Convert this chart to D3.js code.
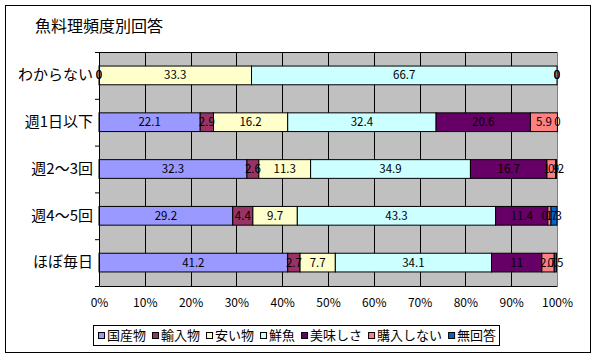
<!DOCTYPE html>
<html><head><meta charset="utf-8">
<script src="https://cdn.jsdelivr.net/npm/d3@7"></script>
<style>body{margin:0;background:#fff}svg{display:block}text{font-family:"Noto Sans CJK JP","Noto Sans",sans-serif}</style>
</head><body>
<svg id="c" width="596" height="358"></svg>
<script>
const title = "魚料理頻度別回答";
const categories = ["わからない","週1日以下","週2～3回","週4～5回","ほぼ毎日"];
const seriesNames = ["国産物","輸入物","安い物","鮮魚","美味しさ","購入しない","無回答"];
const seriesColors = ["#9999FF","#993366","#FFFFCC","#CCFFFF","#660066","#FF8080","#0066CC"];
const kokusan = [0,22.1,32.3,29.2,41.2];
const yunyu = [0,2.9,2.6,4.4,2.7];
const yasui = [33.3,16.2,11.3,9.7,7.7];
const sengyo = [66.7,32.4,34.9,43.3,34.1];
const oishisa = [0,20.6,16.7,11.4,11];
const konyu = [0,5.9,1.9,0.7,2.7];
const mukaito = [0,0,0.2,1.3,0.5];
const xTicks = [0,10,20,30,40,50,60,70,80,90,100];

const seriesValues = [kokusan,yunyu,yasui,sengyo,oishisa,konyu,mukaito];
const svg = d3.select("#c");
const L=99,R=557,T=52,B=286;

svg.append("rect").attr("x",5.5).attr("y",5.5).attr("width",585).attr("height",347).attr("fill","#fff").attr("stroke","#000");
svg.append("text").attr("x",35).attr("y",32).attr("font-size",16).text(title);

const x = d3.scaleLinear().domain([0,100]).range([L,R]);
const y = d3.scaleBand().domain(categories).range([T,B]).paddingInner(0.6).paddingOuter(0.3);

svg.append("rect").attr("x",L).attr("y",T).attr("width",R-L).attr("height",B-T).attr("fill","#C0C0C0");
svg.append("g").selectAll("line").data(xTicks.slice(1,-1)).join("line")
  .attr("x1",d=>Math.round(x(d))+0.5).attr("x2",d=>Math.round(x(d))+0.5).attr("y1",T).attr("y2",B).attr("stroke","#000");
svg.append("line").attr("x1",L).attr("x2",R).attr("y1",T+0.5).attr("y2",T+0.5).attr("stroke","#000");
svg.append("line").attr("x1",R+0.5).attr("x2",R+0.5).attr("y1",T).attr("y2",B).attr("stroke","#808080");

// stacked
const rows = categories.map((c,i)=>{let acc=0;return seriesValues.map((s,j)=>{const v=s[i];const r={cat:c,j,v,x0:acc,x1:acc+v};acc+=v;return r;});});
const flat = rows.flat();
svg.append("g").selectAll("rect").data(flat.filter(d=>d.v>0)).join("rect")
  .attr("x",d=>x(d.x0)).attr("width",d=>x(d.x1)-x(d.x0))
  .attr("y",d=>y(d.cat)).attr("height",y.bandwidth())
  .attr("fill",d=>seriesColors[d.j]).attr("stroke","#000").attr("stroke-width",1);
svg.append("g").selectAll("text").data(flat).join("text")
  .attr("x",d=>x((d.x0+d.x1)/2)).attr("y",d=>y(d.cat)+y.bandwidth()/2+4)
  .attr("text-anchor","middle").attr("font-size",11.5).attr("fill","#000")
  .text(d=>String(d.v));

// axes
const xa = d3.axisBottom(x).tickValues(xTicks).tickFormat(d=>d+"%").tickSize(0).tickPadding(12);
const gx = svg.append("g").attr("transform",`translate(0,${B})`).call(xa);
gx.select(".domain").attr("stroke","#000");
gx.selectAll("text").attr("font-size",12).attr("fill","#000").attr("font-family","'Noto Sans CJK JP',sans-serif");

const ya = d3.axisLeft(y).tickSize(0).tickPadding(6);
const gy = svg.append("g").attr("transform",`translate(${L},0)`).call(ya);
gy.select(".domain").attr("stroke","#000");
gy.selectAll("text").attr("font-size",15).attr("fill","#000").attr("font-family","'Noto Sans CJK JP',sans-serif");
svg.append("g").selectAll("line").data(d3.range(6)).join("line")
  .attr("x1",L-4).attr("x2",L).attr("y1",d=>T+d*(B-T)/5+0.5).attr("y2",d=>T+d*(B-T)/5+0.5).attr("stroke","#000");

// legend
const lg = svg.append("g");
lg.append("rect").attr("x",93.5).attr("y",325.5).attr("width",406).attr("height",20).attr("fill","#fff").attr("stroke","#000");
let lx = 98;
seriesNames.forEach((n,i)=>{
  lg.append("rect").attr("x",lx+0.5).attr("y",332.5).attr("width",6).attr("height",6).attr("fill",seriesColors[i]).attr("stroke","#000");
  const t = lg.append("text").attr("x",lx+9).attr("y",340).attr("font-size",13).text(n);
  lx += 9 + t.node().getComputedTextLength() + 6;
});
</script>
</body></html>
